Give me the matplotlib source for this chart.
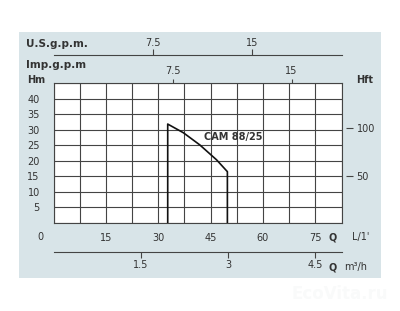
import numpy as np
import matplotlib.pyplot as plt
from matplotlib.patches import Rectangle

# pump curve CAM 88/25, Q in L/min, H in m
q_lmin = [32.7, 32.7, 37.2, 41.9, 46.7, 49.8, 49.8]
h_m = [0, 31.8, 29.0, 25.1, 20.3, 16.5, 0]

q_ticks = [15, 30, 45, 60, 75]
h_ticks = [5, 10, 15, 20, 25, 30, 35, 40]
us_ticks = [7.5, 15]
imp_ticks = [7.5, 15]
m3h_ticks = [1.5, 3, 4.5]
ft_ticks = [50, 100]

W, H = 400, 311
txt = '#333333'
panel = '#d8e4e8'

fig = plt.figure(figsize=(W / 100, H / 100), dpi=100)

def fx(px):
    return px / W

def fy(py):
    return 1 - py / H

# light panel behind everything
fig.patches.append(Rectangle((fx(18.5), fy(278)), fx(381) - fx(18.5), fy(32) - fy(278),
                             transform=fig.transFigure, facecolor=panel, edgecolor='none', zorder=-10))

left, right, top, bottom = 53.6, 341.5, 83, 223
ax = fig.add_axes([fx(left), fy(bottom), fx(right) - fx(left), fy(top) - fy(bottom)])
ax.set_facecolor('white')
ax.set_xlim(0, 82.5)
ax.set_ylim(0, 45)

ax.set_xticks(np.arange(0, 82.6, 7.5))
ax.set_yticks(np.arange(0, 45.1, 5))
ax.grid(True, color='#444444', lw=0.8)
for s in ax.spines.values():
    s.set_color('#444444')
    s.set_linewidth(0.8)
ax.set_xticklabels([f'{int(v)}' if (v in q_ticks) else '' for v in np.arange(0, 82.6, 7.5)])
ax.set_yticklabels([f'{int(v)}' if (v in h_ticks) else '' for v in np.arange(0, 45.1, 5)])
ax.tick_params(axis='x', length=0, pad=7, labelsize=7, labelcolor=txt)
ax.tick_params(axis='y', length=0, pad=10, labelsize=7, labelcolor=txt)

ax.plot(q_lmin, h_m, color='#111111', lw=1.2, zorder=3)
ax.text(43, 27.6, 'CAM 88/25', fontsize=7, fontweight='bold', color=txt, ha='left', va='center')

# Imp gpm on top of the frame
imp = ax.secondary_xaxis('top', functions=(lambda q: q / 4.54609, lambda g: g * 4.54609))
imp.set_xticks(imp_ticks)
imp.set_xticklabels(['7.5', '15'])
imp.tick_params(length=3, width=0.8, color='#444444', labelsize=7, labelcolor=txt, pad=2)
imp.spines['top'].set_visible(False)

# US gpm line above
us = ax.secondary_xaxis(1 + (top - 55) / (bottom - top),
                        functions=(lambda q: q / 3.78541, lambda g: g * 3.78541))
us.set_xticks(us_ticks)
us.set_xticklabels(['7.5', '15'])
us.tick_params(length=4, width=0.8, color='#444444', labelsize=7, labelcolor=txt, pad=1)
us.spines['top'].set_color('#444444')
us.spines['top'].set_linewidth(0.8)

# m3/h line below
m3 = ax.secondary_xaxis(-(251.7 - bottom) / (bottom - top),
                        functions=(lambda q: q * 0.06, lambda m: m / 0.06))
m3.set_xticks(m3h_ticks)
m3.set_xticklabels(['1.5', '3', '4.5'])
m3.tick_params(length=4, width=0.8, color='#444444', labelsize=7, labelcolor=txt, pad=2)
m3.spines['bottom'].set_color('#444444')
m3.spines['bottom'].set_linewidth(0.8)

# feet on the right
ft = ax.secondary_yaxis(1 + 4 / (right - left), functions=(lambda m: m * 3.28084, lambda f: f / 3.28084))
ft.set_yticks(ft_ticks)
ft.set_yticklabels(['50', '100'])
ft.tick_params(length=5, width=0.8, color='#444444', labelsize=7, labelcolor=txt, pad=3)
ft.spines['right'].set_visible(False)

# axis captions
fig.text(fx(26), fy(44), 'U.S.g.p.m.', fontsize=7.5, fontweight='bold', color=txt, va='center')
fig.text(fx(26), fy(65), 'Imp.g.p.m', fontsize=7.5, fontweight='bold', color=txt, va='center')
fig.text(fx(27), fy(80), 'Hm', fontsize=7, fontweight='bold', color=txt, va='center')
fig.text(fx(356), fy(80), 'Hft', fontsize=7, fontweight='bold', color=txt, va='center')
fig.text(fx(40), fy(237), '0', fontsize=7, color=txt, ha='center', va='center')
fig.text(fx(333), fy(237), 'Q', fontsize=7, fontweight='bold', color=txt, ha='center', va='center')
fig.text(fx(352), fy(237), "L/1'", fontsize=7, color=txt, ha='left', va='center')
fig.text(fx(333), fy(267), 'Q', fontsize=7, fontweight='bold', color=txt, ha='center', va='center')
fig.text(fx(344), fy(267), 'm³/h', fontsize=7, color=txt, ha='left', va='center')

# faint watermark
fig.text(fx(340), fy(294), 'EcoVita.ru', fontsize=12, fontweight='bold', color='#f9fafa',
         ha='center', va='center')

fig.savefig('out.png', dpi=100)
